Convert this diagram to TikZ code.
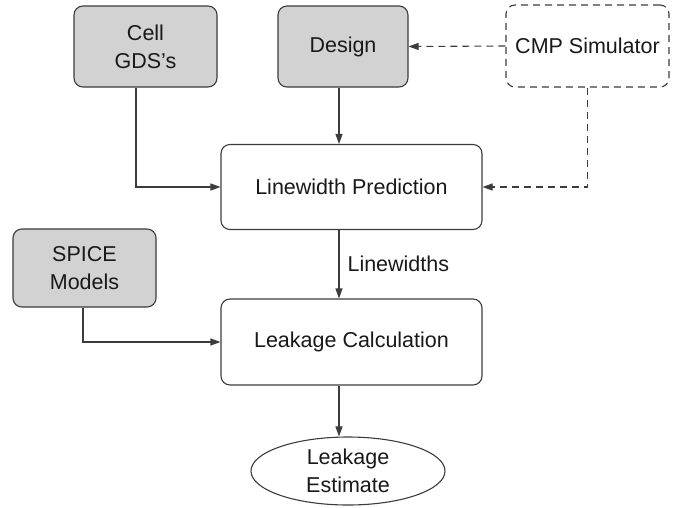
\documentclass[tikz,border=0pt]{standalone}
\usepackage{fontspec}
\setmainfont{Liberation Sans}
\usetikzlibrary{arrows.meta,shapes.geometric}
\definecolor{boxgrey}{RGB}{210,210,210}
\definecolor{linegrey}{RGB}{60,60,60}
\definecolor{txt}{RGB}{25,25,25}
\tikzset{
  base/.style={draw=linegrey, line width=1.1pt, text=txt, align=center, inner sep=0pt,
    font=\fontsize{21.5}{28}\selectfont},
  greybox/.style={base, fill=boxgrey, rounded corners=9pt},
  whitebox/.style={base, fill=white, rounded corners=9pt},
  dashbox/.style={base, fill=white, rounded corners=9pt, dash pattern=on 7pt off 5pt},
  arr/.style={draw=linegrey, line width=1.1pt, -{Triangle[length=10pt,width=7pt]}},
  darr/.style={arr, dash pattern=on 7pt off 5pt},
  lbl/.style={text=txt, font=\fontsize{21.5}{28}\selectfont, inner sep=8pt}
}
\begin{document}
\begin{tikzpicture}[x=1pt,y=-1pt]
\useasboundingbox (0,0) rectangle (682,507);
\fill[white] (0,0) rectangle (682,507);
\node[greybox, minimum width=143pt, minimum height=81pt] (cell) at (145.5,46.5) {Cell\\GDS’s};
\node[greybox, minimum width=130pt, minimum height=81pt] (design) at (343,46.5) {Design};
\node[dashbox, minimum width=163pt, minimum height=82pt] (cmp) at (587.5,46) {CMP Simulator};
\node[whitebox, minimum width=261pt, minimum height=85pt] (lw) at (351.5,187) {Linewidth Prediction};
\node[greybox, minimum width=143pt, minimum height=78pt] (spice) at (84.5,268) {SPICE\\Models};
\node[whitebox, minimum width=261pt, minimum height=86pt] (lc) at (351.5,342) {Leakage Calculation};
\node[base, ellipse, minimum width=194pt, minimum height=68pt] (est) at (348,471) {Leakage\\Estimate};
\coordinate (spine) at (339,0);
\coordinate (cx) at (136,0);
\coordinate (sx) at (83,0);
\draw[arr] (cell.south -| cx) |- (lw.west);
\draw[arr] (design.south -| spine) -- (lw.north -| spine);
\draw[darr] (cmp.west) -- (design.east);
\draw[darr] (cmp.south) |- (lw.east);
\draw[arr] (lw.south -| spine) -- node[lbl, anchor=west] {Linewidths} (lc.north -| spine);
\draw[arr] (spice.south -| sx) |- (lc.west);
\draw[arr] (lc.south -| spine) -- (est.north -| spine);
\end{tikzpicture}
\end{document}
